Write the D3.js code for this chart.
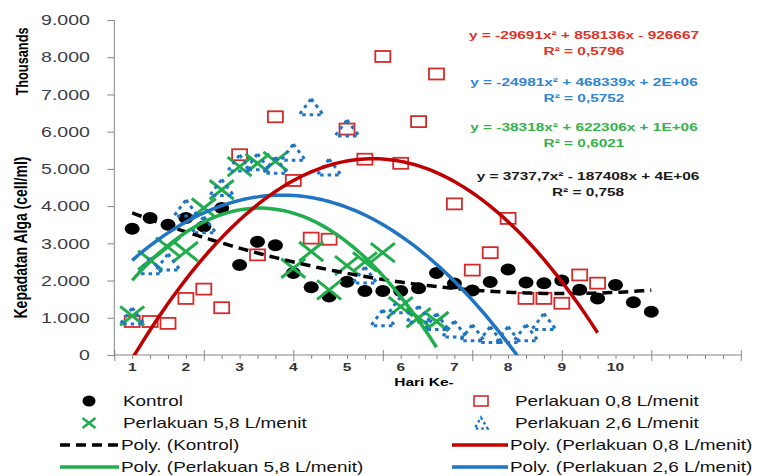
<!DOCTYPE html>
<html>
<head>
<meta charset="utf-8">
<script src="https://cdn.jsdelivr.net/npm/d3@7"></script>
<style>
    body { margin: 0; background: #fff; }
    svg text { font-family: "Liberation Sans", Arial, sans-serif; }
</style>
</head>
<body>
<div id="chart"></div>
<script>
/*
    Kepadatan alga per sample (3 samples a day), values in thousands of cell/ml
*/

// Series values, sample index 1..n
const kontrol = [3390, 3680, 3500, 3680, 3450, 3950, 2420, 3040, 2950, 2200,
    1820, 1570, 1970, 1720, 1720, 1720, 1790, 2200, 1920, 1730,
    1960, 2300, 1950, 1930, 2000, 1750, 1520, 1880, 1420, 1160];
const perlakuan08 = [900, 900, 850, 1520, 1770, 1270, 5380, 2690, 6400, 4690,
    3140, 3110, 6070, 5260, 8020, 5150, 6270, 7550, 4060, 2280,
    2750, 3670, 1520, 1520, 1390, 2150, 1930];
const perlakuan58 = [1050, 2550, 2900, 2780, 3950, 4440, 5060, 5150, 5200, 2330,
    2780, 1750, 2400, 2500, 2750, 1300, 1000, 900];
const perlakuan26 = [1050, 2400, 2500, 3950, 3500, 4500, 5160, 5190, 5100, 5450,
    6670, 5050, 6100, 2150, 1000, 1350, 1100, 900, 700, 600,
    550, 550, 600, 900];

// Polynomial trendline coefficients [a, b, c] (y = ax² + bx + c, raw cell/ml)
const trendKontrol = [3737.7, -187408, 4000000];
const trend08 = [-29691, 858136, -926667];
const trend58 = [-38318, 622306, 1420000];
const trend26 = [-24981, 468339, 2100000];

// Equation labels
const eqTexts = ["y = -29691x² + 858136x - 926667", "y = -24981x² + 468339x + 2E+06",
    "y = -38318x² + 622306x + 1E+06", "y = 3737,7x² - 187408x + 4E+06"];
const r2Texts = ["R² = 0,5796", "R² = 0,5752", "R² = 0,6021", "R² = 0,758"];

// X axis day labels and the sample index they sit under
const dayLabels = ["1", "2", "3", "4", "5", "6", "7", "8", "9", "10"];
const dayIndex = [1, 4, 7, 10, 13, 16, 19, 22, 25, 28];

const yTicks = [0, 1000, 2000, 3000, 4000, 5000, 6000, 7000, 8000, 9000];

const legendLabels = ["Kontrol", "Perlakuan 0,8 L/menit", "Perlakuan 5,8 L/menit",
    "Perlakuan 2,6 L/menit", "Poly. (Kontrol)", "Poly. (Perlakuan 0,8 L/menit)",
    "Poly. (Perlakuan 5,8 L/menit)", "Poly. (Perlakuan 2,6 L/menit)"];

// Colours
const cBlack = "#000000",
    cRed = "#d42b2b",
    cRedLine = "#c00000",
    cGreen = "#1fae4b",
    cBlue = "#1f74c4";
const eqColors = ["#de3329", "#2f86d6", "#36b24a", "#1a1a1a"];

const width = 761,
    height = 476,
    SX = 1.35; // the picture is stretched wider than tall

const svg = d3
    .select("#chart")
    .append("svg")
    .attr("width", width)
    .attr("height", height)
    .style("display", "block");

let x = d3.scaleLinear().domain([0, 35]).range([114.3, 740.8]);
let y = d3.scaleLinear().domain([0, 9000]).range([355, 20]);

const locale = d3.formatLocale({ decimal: ",", thousands: ".", grouping: [3], currency: ["", ""] });
const fmt = locale.format(",.0f");

// stretched text helper
function sText(g, px, py, txt, size, anchor) {
    return g.append("text")
        .attr("transform", `translate(${px},${py}) scale(${SX},1)`)
        .attr("text-anchor", anchor || "start")
        .attr("font-size", size)
        .text(txt);
}

// Y axis
const yAxis = svg.append("g")
    .attr("transform", `translate(${x(0)},0)`)
    .call(d3.axisLeft(y).tickValues(yTicks).tickSize(7).tickFormat(""));
yAxis.select(".domain").attr("stroke", "#868686").attr("d", `M0,${y(9000)}V${y(0)}`);
yAxis.selectAll(".tick line").attr("stroke", "#868686");
for (let t of yTicks) {
    sText(svg, 90, y(t) + 5.2, fmt(t), 14.5, "end").attr("fill", "#3d3d48");
}

// X axis: minor ticks on every sample, crossing major ticks every 5
const xAxis = svg.append("g")
    .attr("transform", `translate(0,${y(0)})`)
    .call(d3.axisBottom(x).tickValues(d3.range(0, 36)).tickSize(4).tickFormat(""));
xAxis.select(".domain").attr("stroke", "#868686").attr("d", `M${x(0)},0H${x(35)}`);
xAxis.selectAll(".tick line")
    .attr("stroke", "#868686")
    .attr("y1", (d) => (d % 5 === 0 ? -5 : 0))
    .attr("y2", (d) => (d % 5 === 0 ? 6 : 4));

dayLabels.forEach((lab, i) => {
    sText(svg, x(dayIndex[i]), 370.5, lab, 11.5, "middle")
        .attr("font-weight", "bold").attr("fill", "#333");
});
sText(svg, 424, 386, "Hari Ke-", 11.5, "middle").attr("font-weight", "bold");

// Axis titles (rotated)
svg.append("text")
    .attr("transform", `translate(21.5,61.5) scale(${SX},1) rotate(-90)`)
    .attr("text-anchor", "middle")
    .attr("dy", "0.35em")
    .attr("font-size", 12.8)
    .attr("font-weight", "bold")
    .text("Thousands");
svg.append("text")
    .attr("transform", `translate(20.5,237.5) scale(${SX},1) rotate(-90)`)
    .attr("text-anchor", "middle")
    .attr("dy", "0.35em")
    .attr("font-size", 14)
    .attr("font-weight", "bold")
    .text("Kepadatan Alga (cell/ml)");

// Marker shapes
function crossPath(w, h) {
    return `M${-w / 2},${-h / 2}L${w / 2},${h / 2}M${-w / 2},${h / 2}L${w / 2},${-h / 2}`;
}
function triPath(w, h) {
    return `M0,${-h / 2}L${w / 2},${h / 2}L${-w / 2},${h / 2}Z`;
}

const plot = svg.append("g");
svg.append("clipPath").attr("id", "plotClip")
    .append("rect")
    .attr("x", x(0)).attr("y", y(9000))
    .attr("width", x(35) - x(0)).attr("height", y(0) - y(9000));

// Kontrol dots
plot.append("g").selectAll("ellipse")
    .data(kontrol)
    .join("ellipse")
    .attr("cx", (d, i) => x(i + 1))
    .attr("cy", (d) => y(d))
    .attr("rx", 7.5).attr("ry", 6)
    .attr("fill", cBlack);

// Perlakuan 0,8 squares
plot.append("g").selectAll("rect")
    .data(perlakuan08)
    .join("rect")
    .attr("x", (d, i) => x(i + 1) - 7.5)
    .attr("y", (d) => y(d) - 5.5)
    .attr("width", 15).attr("height", 11)
    .attr("fill", "none")
    .attr("stroke", cRed)
    .attr("stroke-width", 1.8);

// Perlakuan 5,8 crosses
plot.append("g").selectAll("path")
    .data(perlakuan58)
    .join("path")
    .attr("transform", (d, i) => `translate(${x(i + 1)},${y(d)})`)
    .attr("d", crossPath(24, 19))
    .attr("fill", "none")
    .attr("stroke", cGreen)
    .attr("stroke-width", 3);

// Perlakuan 2,6 dotted triangles
plot.append("g").selectAll("path")
    .data(perlakuan26)
    .join("path")
    .attr("transform", (d, i) => `translate(${x(i + 1)},${y(d)})`)
    .attr("d", triPath(24, 16))
    .attr("fill", "none")
    .attr("stroke", cBlue)
    .attr("stroke-width", 3)
    .attr("stroke-dasharray", "3.5 4");

// Trendlines
const trendLine = d3.line().x((d) => x(d[0])).y((d) => y(d[1]));
function trendPoints(coef, n) {
    return d3.range(1, n + 0.001, 0.25).map((t) => [t, (coef[0] * t * t + coef[1] * t + coef[2]) / 1000]);
}
const trends = [
    { coef: trendKontrol, n: kontrol.length, color: cBlack, dash: "10 6" },
    { coef: trend58, n: perlakuan58.length, color: cGreen, dash: null },
    { coef: trend26, n: perlakuan26.length, color: cBlue, dash: null },
    { coef: trend08, n: perlakuan08.length, color: cRedLine, dash: null },
];
const trendG = plot.append("g").attr("clip-path", "url(#plotClip)");
for (let t of trends) {
    trendG.append("path")
        .attr("d", trendLine(trendPoints(t.coef, t.n)))
        .attr("fill", "none")
        .attr("stroke", t.color)
        .attr("stroke-width", 3.5)
        .attr("stroke-dasharray", t.dash);
}

// Trendline equations
const eqBase = [38.5, 86, 130.5, 179.5];
eqTexts.forEach((txt, i) => {
    const cx = i === 3 ? 588 : 584;
    sText(svg, cx, eqBase[i], txt, 11.4, "middle").attr("font-weight", "bold").attr("fill", eqColors[i]);
    sText(svg, cx, eqBase[i] + 16, r2Texts[i], 11.4, "middle").attr("font-weight", "bold").attr("fill", eqColors[i]);
});

// Legend
const legend = svg.append("g");
const colSym = [89, 481],
    colText = [123, 515],
    lineX = [[60, 119], [452, 508]],
    lineText = [121, 510],
    rowY = [401, 423, 445, 467];

legendLabels.forEach((lab, i) => {
    const col = i % 2,
        row = Math.floor(i / 2),
        cy = rowY[row];
    if (row < 2) {
        sText(legend, colText[col], cy + 5, lab, 14).attr("fill", "#111");
    } else {
        sText(legend, lineText[col], cy + 5, lab, 14).attr("fill", "#111");
    }
});

legend.append("ellipse").attr("cx", colSym[0]).attr("cy", rowY[0]).attr("rx", 6.5).attr("ry", 5.5).attr("fill", cBlack);
legend.append("rect").attr("x", colSym[1] - 7).attr("y", rowY[0] - 5).attr("width", 14).attr("height", 10)
    .attr("fill", "none").attr("stroke", cRed).attr("stroke-width", 1.6);
legend.append("path").attr("transform", `translate(${colSym[0]},${rowY[1]})`).attr("d", crossPath(13, 10))
    .attr("fill", "none").attr("stroke", cGreen).attr("stroke-width", 2.6);
legend.append("path").attr("transform", `translate(${colSym[1]},${rowY[1]})`).attr("d", triPath(13, 11))
    .attr("fill", "none").attr("stroke", cBlue).attr("stroke-width", 2.4).attr("stroke-dasharray", "2.5 3");

const legendLines = [
    { col: 0, row: 2, color: cBlack, dash: "10 6" },
    { col: 1, row: 2, color: cRedLine, dash: null },
    { col: 0, row: 3, color: cGreen, dash: null },
    { col: 1, row: 3, color: cBlue, dash: null },
];
for (let l of legendLines) {
    legend.append("line")
        .attr("x1", lineX[l.col][0]).attr("x2", lineX[l.col][1])
        .attr("y1", rowY[l.row]).attr("y2", rowY[l.row])
        .attr("stroke", l.color)
        .attr("stroke-width", 3.5)
        .attr("stroke-dasharray", l.dash);
}
</script>
</body>
</html>
